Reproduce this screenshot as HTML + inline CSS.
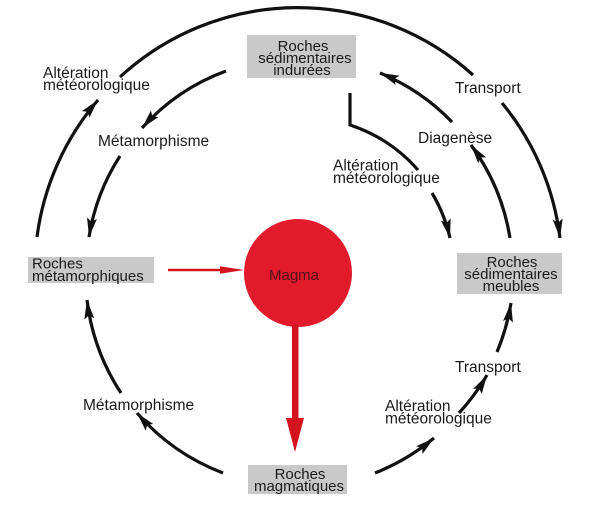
<!DOCTYPE html>
<html>
<head>
<meta charset="utf-8">
<style>
  html, body { margin: 0; padding: 0; background: #ffffff; }
  body { width: 600px; height: 505px; overflow: hidden; }
  svg { display: block; }
  text { font-family: "Liberation Sans", Arial, Helvetica, sans-serif; fill: #1a1a1a; }
  .lbl { font-size: 15.5px; }
  .box { font-size: 15px; }
</style>
</head>
<body>
<svg width="600" height="505" viewBox="0 0 600 505" xmlns="http://www.w3.org/2000/svg">
  <defs>
    <marker id="ah" markerUnits="userSpaceOnUse" markerWidth="22" markerHeight="12" refX="19" refY="6" orient="auto">
      <path d="M0,1 L19,6 L0,11 L3.5,6 Z" fill="#111"/>
    </marker>
  </defs>

  <g fill="none" stroke="#111" stroke-width="3.2" stroke-linecap="butt">
    <!-- outer circle -->
    <path d="M120,77 A262,262 0 0 1 473,75"/>
    <path d="M502,103 A262,262 0 0 1 560,238" marker-end="url(#ah)"/>
    <path d="M37,237 A262,262 0 0 1 98,100" marker-end="url(#ah)"/>

    <!-- inner left (top) -->
    <path d="M226,71 A210,210 0 0 0 142,128" marker-end="url(#ah)"/>
    <path d="M120,156 A210,210 0 0 0 89,237" marker-end="url(#ah)"/>

    <!-- inner right (diagenese) -->
    <path d="M452,122 A214,214 0 0 0 380,73" marker-end="url(#ah)"/>
    <path d="M510,238 A214,214 0 0 0 471,145" marker-end="url(#ah)"/>

    <!-- alteration from indurees -->
    <path d="M350,93 L350,125 A155,155 0 0 1 418,170"/>
    <path d="M432,193 A155,155 0 0 1 450,238" marker-end="url(#ah)"/>

    <!-- lower left -->
    <path d="M223,473 A216,216 0 0 1 137,413" marker-end="url(#ah)"/>
    <path d="M121,393 A216,216 0 0 1 87,300" marker-end="url(#ah)"/>

    <!-- lower right -->
    <path d="M375,473 A218,218 0 0 0 434,438" marker-end="url(#ah)"/>
    <path d="M459,413 A217,217 0 0 0 487,375" marker-end="url(#ah)"/>
    <path d="M497,352 A216,216 0 0 0 511,303" marker-end="url(#ah)"/>
  </g>

  <!-- Magma -->
  <circle cx="298" cy="273" r="54" fill="#e11a2c"/>
  <text x="294" y="280" text-anchor="middle" class="box" style="fill:#551316">Magma</text>

  <!-- red arrows -->
  <line x1="168" y1="270" x2="228" y2="270" stroke="#d3141f" stroke-width="2.6"/>
  <polygon points="220,266.3 244,270 220,273.7" fill="#d3141f"/>
  <rect x="292" y="325" width="6.5" height="95" fill="#d3141f"/>
  <polygon points="286,418 304,418 295,452" fill="#d3141f"/>

  <!-- boxes -->
  <rect x="247" y="35" width="109" height="43" fill="#c9c9c9"/>
  <text class="box" x="303" y="51" text-anchor="middle">Roches</text>
  <text class="box" x="305" y="63" text-anchor="middle">sédimentaires</text>
  <text class="box" x="302" y="75" text-anchor="middle">indurées</text>

  <rect x="28" y="257" width="126" height="26" fill="#c9c9c9"/>
  <text class="box" x="32" y="268.5">Roches</text>
  <text class="box" x="32" y="281">métamorphiques</text>

  <rect x="457" y="253" width="105" height="41" fill="#c9c9c9"/>
  <text class="box" x="512" y="267" text-anchor="middle">Roches</text>
  <text class="box" x="511" y="279" text-anchor="middle">sédimentaires</text>
  <text class="box" x="511" y="291" text-anchor="middle">meubles</text>

  <rect x="248" y="465" width="99" height="29" fill="#c9c9c9"/>
  <text class="box" x="300" y="479" text-anchor="middle">Roches</text>
  <text class="box" x="299" y="491" text-anchor="middle">magmatiques</text>

  <!-- labels -->
  <text class="lbl" x="43" y="78">Altération</text>
  <text class="lbl" x="43" y="90">météorologique</text>

  <text class="lbl" x="98" y="146">Métamorphisme</text>

  <text class="lbl" x="455" y="93">Transport</text>
  <text class="lbl" x="418" y="143">Diagenèse</text>

  <text class="lbl" x="333" y="170.5">Altération</text>
  <text class="lbl" x="333" y="183">météorologique</text>

  <text class="lbl" x="83" y="410">Métamorphisme</text>

  <text class="lbl" x="455" y="372">Transport</text>

  <text class="lbl" x="385" y="411">Altération</text>
  <text class="lbl" x="385" y="423.5">météorologique</text>
</svg>
</body>
</html>
